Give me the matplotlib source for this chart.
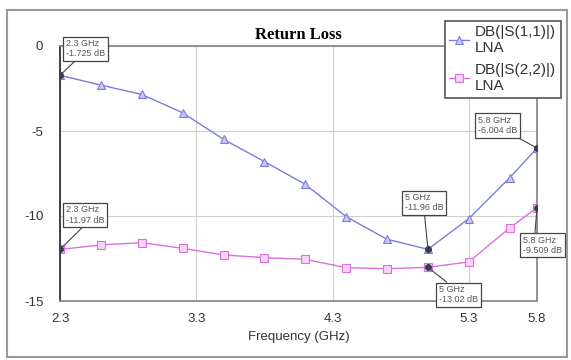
import numpy as np
import matplotlib
matplotlib.use("Agg")
import matplotlib.pyplot as plt
from matplotlib.patches import Rectangle

plt.rcParams['font.family'] = ['Liberation Sans', 'DejaVu Sans']
plt.rcParams['axes.unicode_minus'] = False

# frequency points (GHz) where markers sit
freq = [2.3, 2.6, 2.9, 3.2, 3.5, 3.8, 4.1, 4.4, 4.7, 5.0, 5.3, 5.6, 5.8]
# |S11| in dB
s11 = [-1.725, -2.3, -2.85, -3.93, -5.49, -6.8, -8.14, -10.04, -11.37, -11.96, -10.15, -7.75, -6.004]
# |S22| in dB
s22 = [-11.97, -11.7, -11.57, -11.9, -12.29, -12.45, -12.55, -13.04, -13.1, -13.02, -12.7, -10.7, -9.509]

xticks = [2.3, 3.3, 4.3, 5.3, 5.8]
yticks = [0, -5, -10, -15]

# marker readouts: (freq, value, text offset in pixels, leader attach point on box)
marks = [
    (2.3, -1.725, (6, 36), (0.3, 0.0)),
    (2.3, -11.97, (6, 44), (0.5, 0.0)),
    (5.8, -6.004, (-59, 32), (0.9, 0.0)),
    (5.0, -11.96, (-23, 56), (0.5, 0.0)),
    (5.0, -13.02, (11, -18), (0.3, 1.0)),
    (5.8, -9.509, (-14, -28), (0.3, 1.0)),
]

blue = '#7b7bdc'
pink = '#dd6edd'

fig = plt.figure(figsize=(5.71, 3.6), dpi=100)
fig.patches.append(Rectangle((7 / 571, 1 - 357 / 360), 560 / 571, 347 / 360,
                             transform=fig.transFigure, fill=False,
                             ec='#9a9a9a', lw=1.5))

ax = fig.add_axes([60 / 571, 59 / 360, 477 / 571, 255 / 360])

ax.plot(freq, s11, color=blue, lw=1.0, marker='^', ms=6, mfc='#c8c8f4',
        mec=blue, mew=0.8, label='DB(|S(1,1)|)\nLNA')
ax.plot(freq, s22, color=pink, lw=1.0, marker='s', ms=5.5, mfc='#f6d4f6',
        mec=pink, mew=0.8, label='DB(|S(2,2)|)\nLNA')

for fx, fy, off, rp in marks:
    ax.plot(fx, fy, marker='o', ms=4, color='#3a3a55', zorder=5)
    label = ('%g GHz\n%s dB' % (fx, ('%.4g' % fy)))
    ax.annotate(label, xy=(fx, fy), xytext=off, textcoords='offset pixels',
                ha='left', va='top', fontsize=6.5, color='#555555',
                linespacing=1.15,
                bbox=dict(boxstyle='square,pad=0.3', fc='white', ec='#444444', lw=0.9),
                arrowprops=dict(arrowstyle='-', color='#444444', lw=0.8,
                                shrinkA=0, shrinkB=0, relpos=rp),
                annotation_clip=False, zorder=6)

ax.set_xlim(2.3, 5.8)
ax.set_ylim(-15, 0)
ax.set_xticks(xticks)
ax.set_xticklabels(['%g' % t for t in xticks])
ax.set_yticks(yticks)
ax.tick_params(length=0, labelsize=9.5, colors='#333333')
ax.tick_params(axis='y', pad=12)
ax.tick_params(axis='x', pad=9)
ax.grid(True, color='#cfcfcf', lw=0.8)
for s in ax.spines.values():
    s.set_color('#8a8a8a')
    s.set_linewidth(1.3)
ax.spines['left'].set_color('#333333')

ax.set_xlabel('Frequency (GHz)', fontsize=9.5, color='#333333', labelpad=4)
ax.set_title('Return Loss', fontsize=12, fontweight='bold',
             family='Liberation Serif', pad=5)

leg = ax.legend(loc='upper left', bbox_to_anchor=(437 / 571, 1 - 13 / 360),
                bbox_transform=fig.transFigure, fontsize=11, handlelength=1.3,
                handletextpad=0.4, borderpad=0.3, labelspacing=0.5,
                fancybox=False, framealpha=1, edgecolor='#555555')
leg.get_frame().set_linewidth(1.2)
for t in leg.get_texts():
    t.set_color('#333333')

fig.savefig('out.png', dpi=100)
